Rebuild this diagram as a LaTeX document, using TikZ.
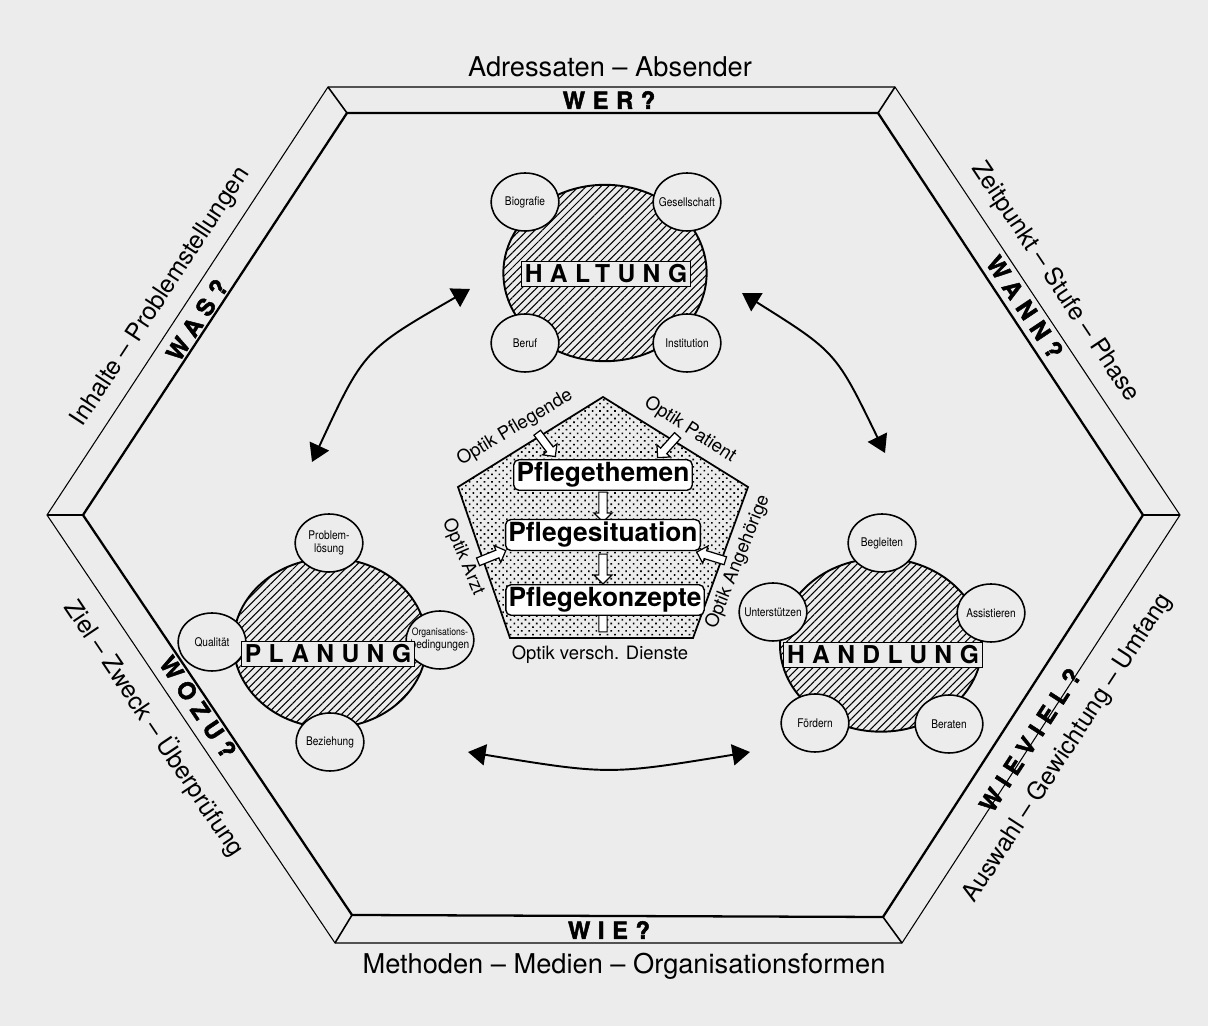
\documentclass[tikz,border=0pt]{standalone}
\usepackage{fontspec}
\setmainfont{TeX Gyre Heros}
\newfontfamily\narrowfont{TeX Gyre Heros}[FakeStretch=0.85]
\newfontfamily\tagfont{TeX Gyre Heros}[LetterSpace=30]
\newfontfamily\bandfont{TeX Gyre Heros}[LetterSpace=32,BoldFeatures={FakeBold=2}]
\usepackage{tikz}
\usetikzlibrary{
  patterns.meta,
  shapes.geometric,
  shapes.arrows,
  arrows.meta}
\definecolor{paper}{RGB}{236,236,236}

\begin{document}
\begin{tikzpicture}[x=0.02cm,y=-0.02cm,line join=miter,
  bandtext/.style={font=\bandfont\bfseries\fontsize{13.5}{14}\selectfont},
  sidetext/.style={font=\fontsize{15.5}{16}\selectfont},
  slanttext/.style={font=\fontsize{14}{15}\selectfont},
  core/.style={ellipse,draw,line width=1.1pt,
    pattern={Lines[angle=45,distance=3pt,line width=0.6pt]}},
  facet/.style={ellipse,draw,line width=0.9pt,fill=paper,
    minimum width=38.5pt,minimum height=33pt,inner sep=0pt,
    label={[align=center,font=\narrowfont\fontsize{6.8}{7.4}\selectfont]center:{#1}}},
  tag/.style={draw,line width=0.5pt,fill=paper,inner sep=2pt,
    font=\tagfont\bfseries\fontsize{14}{14}\selectfont},
  optik/.style={font=\fontsize{10.5}{11}\selectfont},
  pflege/.style={draw,fill=white,line width=0.8pt,rounded corners=3pt,
    inner sep=1.6pt,font=\bfseries\fontsize{15}{15}\selectfont},
  hollow/.style={single arrow,draw,fill=white,line width=0.7pt,
    minimum height=17pt,inner sep=2pt,single arrow head extend=2.8pt},
  link/.style={line width=1.1pt,
    {Triangle[length=10pt,width=12pt]}-{Triangle[length=10pt,width=12pt]}}]

\fill[paper] (0,0) rectangle (1208,1026);
\useasboundingbox (0,0) rectangle (1208,1026);

\coordinate (o1) at (328,87);
\coordinate (o2) at (895,87);
\coordinate (o3) at (1180,515);
\coordinate (o4) at (902,943);
\coordinate (o5) at (335,943);
\coordinate (o6) at (47,515);
\coordinate (i1) at (347,113);
\coordinate (i2) at (878,113);
\coordinate (i3) at (1143,515);
\coordinate (i4) at (883,917);
\coordinate (i5) at (352,915);
\coordinate (i6) at (83,515);

\draw[line width=0.6pt] (o1) -- (o2) -- (o3) -- (o4) -- (o5) -- (o6) -- cycle;
\draw[line width=1.3pt] (i1) -- (i2) -- (i3) -- (i4) -- (i5) -- (i6) -- cycle;
\foreach \k in {1,...,6}
  \draw[line width=0.9pt] (o\k) -- (i\k);

\node[bandtext] (wer) at (609,100) {WER?};
\node[bandtext] (wie) at (609,930) {WIE?};
\node[bandtext,rotate=56.7] (was) at (197,320) {WAS?};
\node[bandtext,rotate=-56.3] (wann) at (1025,307) {WANN?};
\node[bandtext,rotate=-56.1] (wozu) at (198,707) {WOZU?};
\node[bandtext,rotate=57] (wieviel) at (1030,740) {WIEVIEL?};

\node[sidetext] (adr) at (610,67) {Adressaten – Absender};
\node[sidetext] (met) at (624,966) {Methoden – Medien – Organisationsformen};
\node[slanttext,rotate=56.7] (inh) at (161,297) {Inhalte – Problemstellungen};
\node[slanttext,rotate=-56.3] (zeit) at (1055,282) {Zeitpunkt – Stufe – Phase};
\node[slanttext,rotate=-56.1] (ziel) at (155,728) {Ziel – Zweck – Überprüfung};
\node[slanttext,rotate=57] (ausw) at (1068,748) {Auswahl – Gewichtung – Umfang};

\node[core,minimum width=115.7pt,minimum height=100.4pt] (hal) at (605,273) {};
\node[facet=Biografie] (bio) at (525,202) {};
\node[facet=Gesellschaft] (ges) at (687,202) {};
\node[facet=Beruf] (ber) at (525,343) {};
\node[facet=Institution] (ins) at (687,343) {};
\node[tag] (haltag) at (606,274) {HALTUNG};

\node[core,minimum width=110pt,minimum height=96.4pt] (pla) at (330,643) {};
\node[facet={Problem-\\lösung}] (pro) at (329,543) {};
\node[facet=Qualität] (qua) at (212,642) {};
\node[facet={\fontsize{5.8}{6.4}\selectfont Organisations-\\bedingungen}] (org) at (440,640) {};
\node[facet=Beziehung] (bez) at (330,742) {};
\node[tag] (platag) at (328,654) {PLANUNG};

\node[core,minimum width=115pt,minimum height=98.7pt] (han) at (881,645) {};
\node[facet=Begleiten] (beg) at (882,543) {};
\node[facet=Unterstützen] (unt) at (773,612) {};
\node[facet=Assistieren] (ass) at (991,613) {};
\node[facet=Fördern] (foe) at (815,723) {};
\node[facet=Beraten] (bera) at (949,724) {};
\node[tag] (hantag) at (883,655) {HANDLUNG};

\coordinate (p1) at (603,397);
\coordinate (p2) at (748,487);
\coordinate (p3) at (693,638);
\coordinate (p4) at (510,638);
\coordinate (p5) at (458,487);
\draw[line width=1pt,pattern={Dots[distance=3pt,radius=0.65pt,angle=45]}]
  (p1) -- (p2) -- (p3) -- (p4) -- (p5) -- cycle;

\node[optik,rotate=31] (opfl) at (515,428) {Optik Pflegende};
\node[optik,rotate=-33] (opat) at (690,430) {Optik Patient};
\node[optik,rotate=-67] (oarz) at (463,557) {Optik Arzt};
\node[optik,rotate=68] (oang) at (738,562) {Optik Angehörige};
\node[optik] (odie) at (600,655) {Optik versch. Dienste};

\node[hollow,rotate=-53] (hpfl) at (545,443) {};
\node[hollow,rotate=-132] (hpat) at (669,445) {};
\node[hollow,rotate=22] (harz) at (490,557) {};
\node[hollow,rotate=163] (hang) at (713,557) {};
\node[hollow,rotate=90] (hdie) at (603,619) {};
\node[hollow,rotate=-90] (hd1) at (603,505) {};
\node[hollow,rotate=-90] (hd2) at (603,567) {};

\node[pflege] (them) at (603,475) {Pflegethemen};
\node[pflege] (sit) at (603,535) {Pflegesituation};
\node[pflege] (konz) at (605,600) {Pflegekonzepte};

\coordinate (lhal) at (470,289);
\coordinate (lpla) at (312,462);
\coordinate (rhal) at (742,293);
\coordinate (rhan) at (885,453);
\coordinate (bpla) at (468,752);
\coordinate (bhan) at (750,752);
\draw[link] (lhal) .. controls (364,350) .. (lpla);
\draw[link] (rhal) .. controls (836,352) .. (rhan);
\draw[link] (bpla) .. controls (609,775) .. (bhan);
\end{tikzpicture}
\end{document}
